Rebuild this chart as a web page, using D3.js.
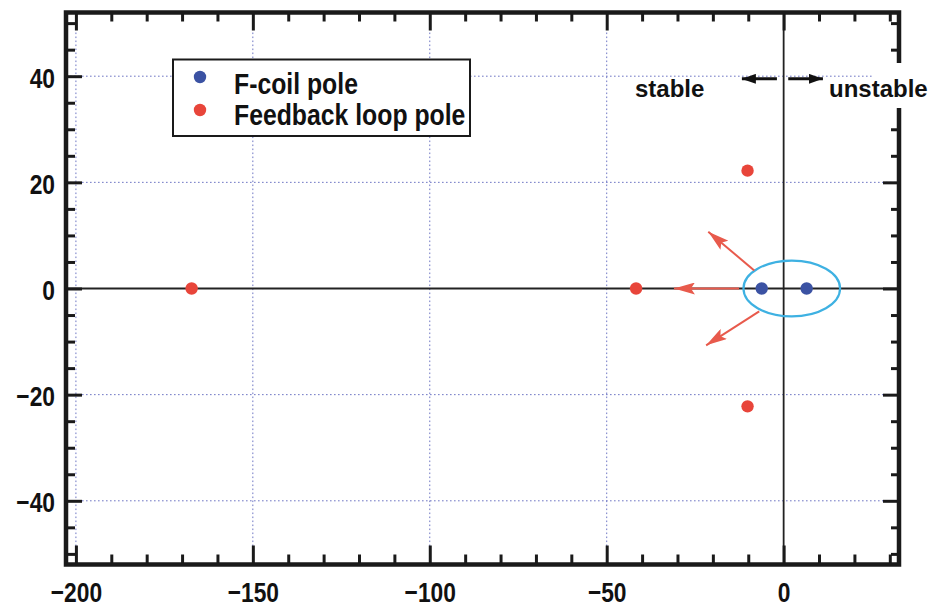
<!DOCTYPE html>
<html>
<head>
<meta charset="utf-8">
<script src="https://cdn.jsdelivr.net/npm/d3@7"></script>
<style>
  body { margin: 0; background: #fff; }
  svg { display: block; }
  .num { font-family: "Liberation Sans", Arial, sans-serif; font-weight: bold; font-size: 28.5px; fill: #111; }
  .leg { font-family: "Liberation Sans", Arial, sans-serif; font-weight: bold; font-size: 29px; fill: #111; }
  .note { font-family: "Liberation Sans", Arial, sans-serif; font-weight: bold; font-size: 24px; fill: #111; }
</style>
</head>
<body>
<svg id="chart" width="929" height="608"></svg>
<script>
// Pole locations in the complex plane (real part, imaginary part)
const fcoilRe = [-6.2, 6.5];
const fcoilIm = [0, 0];
const feedbackRe = [-167.3, -41.7, -10.2, -10.2];
const feedbackIm = [0, 0, 22.2, -22.2];

// Axis ticks
const xMajorTicks = [-200, -150, -100, -50, 0];
const xMinorTicks = [-190, -180, -170, -160, -140, -130, -120, -110, -90, -80, -70, -60, -40, -30, -20, -10, 10, 20, 30];
const yMajorTicks = [-40, -20, 0, 20, 40];
const yMinorTicks = [-50, -45, -35, -30, -25, -15, -10, -5, 5, 10, 15, 25, 30, 35, 45, 50];

// Legend entries
const legendLabels = ["F-coil pole", "Feedback loop pole"];
const legendColors = ["#3b52a3", "#e8453a"];

// Root-locus style arrows: [fromRe, fromIm, toRe, toIm]
const migrationArrows = [
  [-8.3, 3.4, -21.3, 10.7],
  [-12.6, 0, -31.0, 0],
  [-6.9, -4.3, -21.9, -10.7]
];
// Encircled unstable-pair region: centre and semi-axes in data units
const circleCentre = [2.3, 0];
const circleRadii = [13.65, 5.25];
// stable / unstable direction arrows at this imaginary level
const stabilityLevel = 39.5;

const svg = d3.select("#chart");
const plotL = 66, plotR = 899, plotT = 12.5, plotB = 564.5;
// horizontal condensing applied to the bold sans labels
const narrow = 0.8, legendNarrow = 0.855;

const x = d3.scaleLinear().domain([-202.8, 32.6]).range([plotL, plotR]);
const y = d3.scaleLinear().domain([-52, 52]).range([plotB, plotT]);

const ink = "#1a1a1a";
const gridColor = "#6f76c4";

// Dotted grid (zero lines drawn solid separately)
const gx = svg.append("g");
gx.selectAll("line.vg").data(xMajorTicks.filter(d => d !== 0)).join("line")
  .attr("x1", d => x(d)).attr("x2", d => x(d))
  .attr("y1", plotT).attr("y2", plotB)
  .attr("stroke", gridColor).attr("stroke-width", 1).attr("stroke-dasharray", "1.6,2.4");
gx.selectAll("line.hg").data(yMajorTicks.filter(d => d !== 0)).join("line")
  .attr("x1", plotL).attr("x2", plotR)
  .attr("y1", d => y(d)).attr("y2", d => y(d))
  .attr("stroke", gridColor).attr("stroke-width", 1).attr("stroke-dasharray", "1.6,2.4");

// Real and imaginary axes
svg.append("line").attr("x1", plotL).attr("x2", plotR).attr("y1", y(0)).attr("y2", y(0))
  .attr("stroke", "#222").attr("stroke-width", 2);
svg.append("line").attr("x1", x(0)).attr("x2", x(0)).attr("y1", plotT).attr("y2", plotB)
  .attr("stroke", "#222").attr("stroke-width", 1.8);

// Tick marks pointing inward on all four sides
function styleAxis(g) {
  g.select(".domain").remove();
  g.selectAll(".tick line").attr("stroke", ink).attr("stroke-width", 3);
}
svg.append("g").attr("transform", `translate(0,${plotB})`)
  .call(d3.axisBottom(x).tickValues(xMinorTicks).tickSize(-10).tickFormat(""))
  .call(styleAxis);
svg.append("g").attr("transform", `translate(0,${plotT})`)
  .call(d3.axisTop(x).tickValues(xMinorTicks).tickSize(-9).tickFormat(""))
  .call(styleAxis);
svg.append("g").attr("transform", `translate(0,${plotT})`)
  .call(d3.axisTop(x).tickValues(xMajorTicks).tickSize(-18).tickFormat(""))
  .call(styleAxis);
svg.append("g").attr("transform", `translate(${plotL},0)`)
  .call(d3.axisLeft(y).tickValues(yMinorTicks).tickSize(-9).tickFormat(""))
  .call(styleAxis);
svg.append("g").attr("transform", `translate(${plotR},0)`)
  .call(d3.axisRight(y).tickValues(yMinorTicks).tickSize(-8).tickFormat(""))
  .call(styleAxis);
svg.append("g").attr("transform", `translate(${plotR},0)`)
  .call(d3.axisRight(y).tickValues(yMajorTicks).tickSize(-16).tickFormat(""))
  .call(styleAxis);

const xAxis = svg.append("g").attr("transform", `translate(0,${plotB})`)
  .call(d3.axisBottom(x).tickValues(xMajorTicks).tickSize(-19).tickPadding(17.5))
  .call(styleAxis);
xAxis.attr("font-size", null).attr("font-family", null);
xAxis.selectAll(".tick text").attr("class", "num")
  .attr("transform", `scale(${narrow},1)`);

const yAxis = svg.append("g").attr("transform", `translate(${plotL},0)`)
  .call(d3.axisLeft(y).tickValues(yMajorTicks).tickSize(-16).tickPadding(11))
  .call(styleAxis);
yAxis.attr("font-size", null).attr("font-family", null);
yAxis.selectAll(".tick text").attr("class", "num").attr("dy", "0.38em")
  .attr("x", 0).attr("transform", `translate(-11,0) scale(${narrow},1)`);

// Plot frame
svg.append("rect").attr("x", plotL).attr("y", plotT)
  .attr("width", plotR - plotL).attr("height", plotB - plotT)
  .attr("fill", "none").attr("stroke", ink).attr("stroke-width", 4.5);

// Stability annotation
svg.append("rect").attr("x", 873).attr("y", 63).attr("width", 56).attr("height", 45).attr("fill", "#fff");
svg.append("text").attr("class", "note").attr("x", 635).attr("y", 96.5).text("stable");
svg.append("text").attr("class", "note").attr("x", 829).attr("y", 96.5).text("unstable");

const defs = svg.append("defs");
defs.append("marker").attr("id", "blackHead").attr("markerUnits", "userSpaceOnUse")
  .attr("viewBox", "0 0 14 10").attr("refX", 14).attr("refY", 5)
  .attr("markerWidth", 14).attr("markerHeight", 10).attr("orient", "auto")
  .append("path").attr("d", "M0,0 L14,5 L0,10 Z").attr("fill", "#111");
defs.append("marker").attr("id", "redHead").attr("markerUnits", "userSpaceOnUse")
  .attr("viewBox", "0 0 21 12").attr("refX", 21).attr("refY", 6)
  .attr("markerWidth", 21).attr("markerHeight", 12).attr("orient", "auto")
  .append("path").attr("d", "M0,0 L21,6 L0,12 L4,6 Z").attr("fill", "#e85a4c");

svg.append("line").attr("x1", x(-1.9)).attr("x2", x(-11.8))
  .attr("y1", y(stabilityLevel)).attr("y2", y(stabilityLevel))
  .attr("stroke", "#111").attr("stroke-width", 3).attr("marker-end", "url(#blackHead)");
svg.append("line").attr("x1", x(1.3)).attr("x2", x(11.1))
  .attr("y1", y(stabilityLevel)).attr("y2", y(stabilityLevel))
  .attr("stroke", "#111").attr("stroke-width", 3).attr("marker-end", "url(#blackHead)");

// Legend
const legend = svg.append("g");
legend.append("rect").attr("x", 173).attr("y", 59.5).attr("width", 297).attr("height", 76.5)
  .attr("fill", "#fff").attr("stroke", ink).attr("stroke-width", 2);
legendLabels.forEach((lab, i) => {
  legend.append("circle").attr("cx", 200).attr("cy", 77 + i * 33).attr("r", 6.2).attr("fill", legendColors[i]);
  legend.append("text").attr("class", "leg")
    .attr("transform", `translate(234,${93.5 + i * 31}) scale(${legendNarrow},1)`)
    .text(lab);
});

// Encircled region around the F-coil poles
svg.append("ellipse")
  .attr("cx", x(circleCentre[0])).attr("cy", y(circleCentre[1]))
  .attr("rx", x(circleRadii[0]) - x(0)).attr("ry", y(0) - y(circleRadii[1]))
  .attr("fill", "none").attr("stroke", "#3eb1e2").attr("stroke-width", 2.2);

// Pole migration arrows
svg.append("g").selectAll("line").data(migrationArrows).join("line")
  .attr("x1", d => x(d[0])).attr("y1", d => y(d[1]))
  .attr("x2", d => x(d[2])).attr("y2", d => y(d[3]))
  .attr("stroke", "#e85a4c").attr("stroke-width", 2)
  .attr("marker-end", "url(#redHead)");

// Poles
svg.append("g").selectAll("circle").data(feedbackRe.map((r, i) => [r, feedbackIm[i]])).join("circle")
  .attr("cx", d => x(d[0])).attr("cy", d => y(d[1])).attr("r", 6.2).attr("fill", legendColors[1]);
svg.append("g").selectAll("circle").data(fcoilRe.map((r, i) => [r, fcoilIm[i]])).join("circle")
  .attr("cx", d => x(d[0])).attr("cy", d => y(d[1])).attr("r", 6.2).attr("fill", legendColors[0]);
</script>
</body>
</html>
